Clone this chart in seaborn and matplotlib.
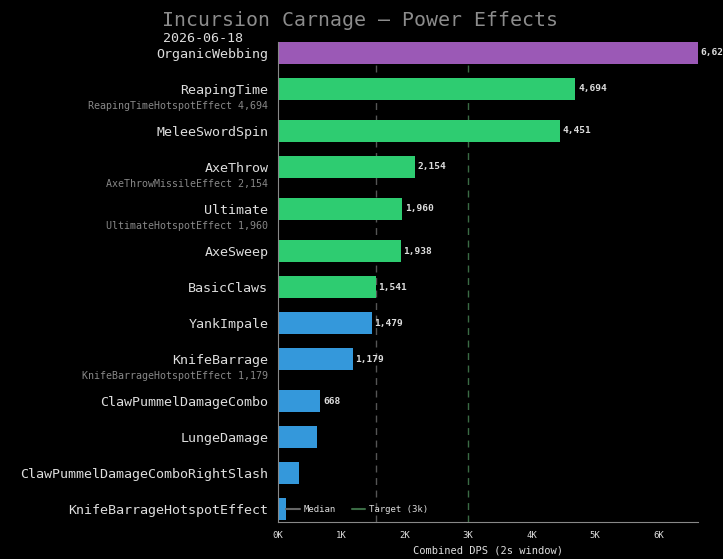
import numpy as np
import pandas as pd
import seaborn as sns
import matplotlib.pyplot as plt
from matplotlib.lines import Line2D
from matplotlib.ticker import FuncFormatter, MultipleLocator

names = ["OrganicWebbing", "ReapingTime", "MeleeSwordSpin", "AxeThrow", "Ultimate",
         "AxeSweep", "BasicClaws", "YankImpale", "KnifeBarrage",
         "ClawPummelDamageCombo", "LungeDamage", "ClawPummelDamageComboRightSlash",
         "KnifeBarrageHotspotEffect"]
values = [6628, 4694, 4451, 2154, 1960, 1938, 1541, 1479, 1179, 668, 615, 331, 126]
sub_effects = ["", "ReapingTimeHotspotEffect", "", "AxeThrowMissileEffect",
               "UltimateHotspotEffect", "", "", "", "KnifeBarrageHotspotEffect",
               "", "", "", ""]
target = 3000

median = float(np.median(values))

# row positions: a little extra room under rows carrying a sub-effect line
pos = []
y = 0.0
for i, s in enumerate(sub_effects):
    pos.append(y)
    y += 1.0 + (0.167 if s else 0.0)

colors = []
for i, v in enumerate(values):
    if i == 0:
        colors.append("#9b59b6")
    elif v >= median:
        colors.append("#2ecc71")
    else:
        colors.append("#3498db")

df = pd.DataFrame({"name": names, "dps": values, "pos": pos})

sns.set_style("dark")
plt.rcParams["font.family"] = ["DejaVu Sans Mono"]
plt.rcParams["figure.facecolor"] = "black"

fig = plt.figure(figsize=(7.23, 5.59), dpi=100)
ax = fig.add_axes([0.3845, 0.0662, 0.581, 0.8587])
ax.set_facecolor("black")

ax.axvline(median, color="#555555", lw=1, ls=(0, (5, 4)), zorder=0)
ax.axvline(target, color="#3a6b44", lw=1, ls=(0, (5, 4)), zorder=0)

sns.barplot(data=df, x="dps", y="pos", hue="name", palette=dict(zip(names, colors)),
            orient="h", native_scale=True, width=0.61, legend=False, ax=ax,
            saturation=1, linewidth=0, edgecolor="none", zorder=2)

ax.set_xlim(0, max(values))
ax.set_ylim(pos[-1] + 0.36, pos[0] - 0.305)
ax.set_yticks(pos)
ax.set_yticklabels(names, fontsize=9.6, color="#dddddd")
ax.tick_params(axis="y", length=0, pad=7)
ax.xaxis.set_major_locator(MultipleLocator(1000))
ax.xaxis.set_major_formatter(FuncFormatter(lambda v, p: f"{int(v / 1000)}K"))
ax.tick_params(axis="x", colors="#888888", labelcolor="#dddddd", labelsize=6.5,
               length=3, width=0.8)
ax.set_xlabel("Combined DPS (2s window)", fontsize=7.5, color="#dddddd", labelpad=4)
ax.set_ylabel("")
ax.grid(False)
for side in ["top", "right"]:
    ax.spines[side].set_visible(False)
for side in ["left", "bottom"]:
    ax.spines[side].set_visible(True)
    ax.spines[side].set_color("#888888")
    ax.spines[side].set_linewidth(0.8)

for v, p, s in zip(values, pos, sub_effects):
    if v >= 0.1 * max(values):
        ax.annotate(f"{v:,}", xy=(v, p), xytext=(2, 0), textcoords="offset points",
                    ha="left", va="center", fontsize=6.8, fontweight="bold",
                    color="#dddddd", annotation_clip=False)
    if s:
        ax.annotate(f"{s} {v:,}", xy=(0, p), xycoords=("axes fraction", "data"),
                    xytext=(-7.5, -12.5), textcoords="offset points",
                    ha="right", va="center", fontsize=7.2, color="#888888",
                    annotation_clip=False)

handles = [Line2D([], [], color="#666666", lw=1.5, label="Median"),
           Line2D([], [], color="#3a6b44", lw=1.5, label="Target (3k)")]
ax.legend(handles=handles, loc="lower left", ncol=2, frameon=False, fontsize=6.5,
          labelcolor="#dddddd", bbox_to_anchor=(0.0, 0.0), borderaxespad=0.5,
          handlelength=1.5, handletextpad=0.4, columnspacing=1.8)

fig.text(0.4985, 1 - 20 / 559, "Incursion Carnage \u2014 Power Effects", ha="center",
         va="center", fontsize=14.3, color="#8c8c8c")
fig.text(163 / 723, 1 - 38 / 559, "2026-06-18", ha="left", va="center",
         fontsize=9.6, color="#dddddd")

fig.savefig("out.png", dpi=100, facecolor="black")
plt.close()
